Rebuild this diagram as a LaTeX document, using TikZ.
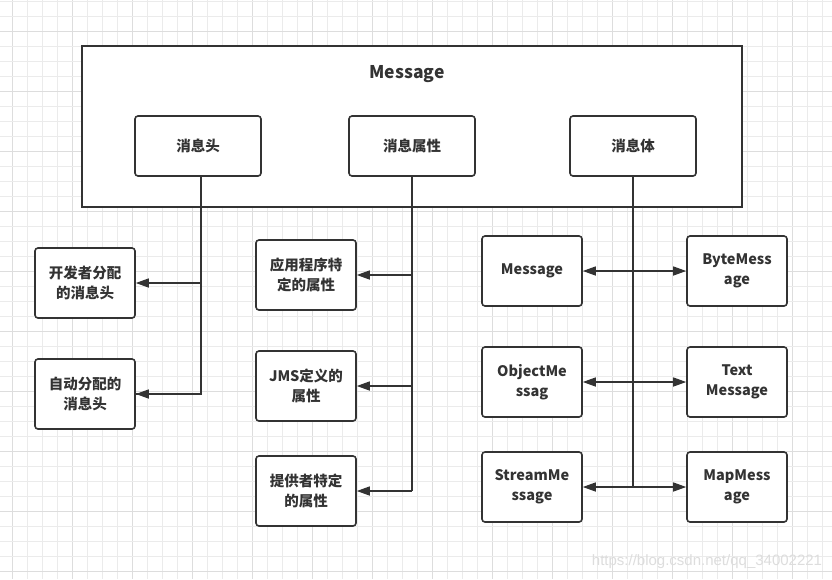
\documentclass[tikz,border=0pt]{standalone}
\usepackage{fontspec}
\setmainfont{Noto Sans CJK SC}
\newfontfamily\urlfont{Liberation Sans}
\usetikzlibrary{arrows.meta}

\definecolor{ink}{HTML}{333333}
\definecolor{gridminor}{HTML}{EBEBEB}
\definecolor{gridmajor}{HTML}{DDDDDD}

\tikzset{
	part node/.style = {
		rectangle,
		rounded corners = 3pt,
		draw = ink,
		line width = 1.6pt,
		fill = white,
		text = ink,
		font = \fontsize{14.5}{20}\selectfont\bfseries,
		minimum width = 126pt,
		minimum height = 60pt,
		align = center
	},
	leaf node/.style = {
		part node,
		minimum width = 100pt,
		minimum height = 70pt
	},
	link/.style = {
		draw = ink,
		line width = 1.4pt
	},
	link arrow/.style = {
		link,
		-{Triangle[length=13pt,width=9pt]}
	},
	both arrow/.style = {
		link,
		{Triangle[length=13pt,width=9pt]}-{Triangle[length=13pt,width=9pt]}
	}
}

\begin{document}
\begin{tikzpicture}[x=1pt, y=-1pt]
	\useasboundingbox (0,0) rectangle (832,579);
	\fill[white] (0,0) rectangle (832,579);
	% background grid
	\foreach \k in {0,...,54} {
		\pgfmathtruncatemacro{\major}{mod(\k,4)==0}
		\ifnum\major=1
			\draw[gridmajor, line width=0.8pt] (12.7+15*\k,0) -- (12.7+15*\k,579);
		\else
			\draw[gridminor, line width=0.8pt] (12.7+15*\k,0) -- (12.7+15*\k,579);
		\fi
	}
	\foreach \k in {0,...,38} {
		\pgfmathtruncatemacro{\major}{mod(\k+2,4)==0}
		\ifnum\major=1
			\draw[gridmajor, line width=0.8pt] (0,1.7+15*\k) -- (832,1.7+15*\k);
		\else
			\draw[gridminor, line width=0.8pt] (0,1.7+15*\k) -- (832,1.7+15*\k);
		\fi
	}

	% outer message frame
	\node at (412,126.5) [draw = ink, line width = 1.8pt, fill = white, minimum width = 660pt, minimum height = 161pt] (frame) {};
	\node at (407,74) [text = ink, font = \fontsize{17.5}{20}\selectfont\bfseries] (title) {Message};

	\node at (198,146) [part node] (head) {消息头};
	\node at (412,146) [part node] (prop) {消息属性};
	\node at (633,146) [part node] (body) {消息体};

	% header column
	\node at (85,283)  [leaf node] (devhead)  {开发者分配\\的消息头};
	\node at (85,394)  [leaf node] (autohead) {自动分配的\\消息头};

	% property column
	\node at (306,275) [leaf node] (appprop)  {应用程序特\\定的属性};
	\node at (306,386) [leaf node] (jmsprop)  {JMS定义的\\属性};
	\node at (306,491) [leaf node] (venprop)  {提供者特定\\的属性};

	% body column
	\node at (532,271) [leaf node] (msgcls)    {Message};
	\node at (532,382) [leaf node] (objcls)    {ObjectMe\\ssag};
	\node at (532,487) [leaf node] (streamcls) {StreamMe\\ssage};
	\node at (737,271) [leaf node] (bytecls)   {ByteMess\\age};
	\node at (737,382) [leaf node] (textcls)   {Text\\Message};
	\node at (737,487) [leaf node] (mapcls)    {MapMess\\age};

	\draw[link] (head.south) ++(3,0) coordinate (headtrunk) |- (autohead.east |- autohead.center) coordinate (autoend);
	\draw[link arrow] (headtrunk |- devhead.east) -- (devhead.east);
	\draw[link arrow] (headtrunk |- autohead.east) -- (autohead.east);

	\draw[link] (prop.south) -- (prop.south |- venprop.east);
	\draw[link arrow] (prop.south |- appprop.east) -- (appprop.east);
	\draw[link arrow] (prop.south |- jmsprop.east) -- (jmsprop.east);
	\draw[link arrow] (prop.south |- venprop.east) -- (venprop.east);

	\draw[link] (body.south) -- (body.south |- streamcls.east);
	\draw[both arrow] (msgcls.east) -- (bytecls.west);
	\draw[both arrow] (objcls.east) -- (textcls.west);
	\draw[both arrow] (streamcls.east) -- (mapcls.west);

	\node at (707,562) [text = gridmajor, font = \urlfont\fontsize{15}{17}\selectfont] (mark) {https://blog.csdn.net/qq\_34002221};
\end{tikzpicture}
\end{document}
